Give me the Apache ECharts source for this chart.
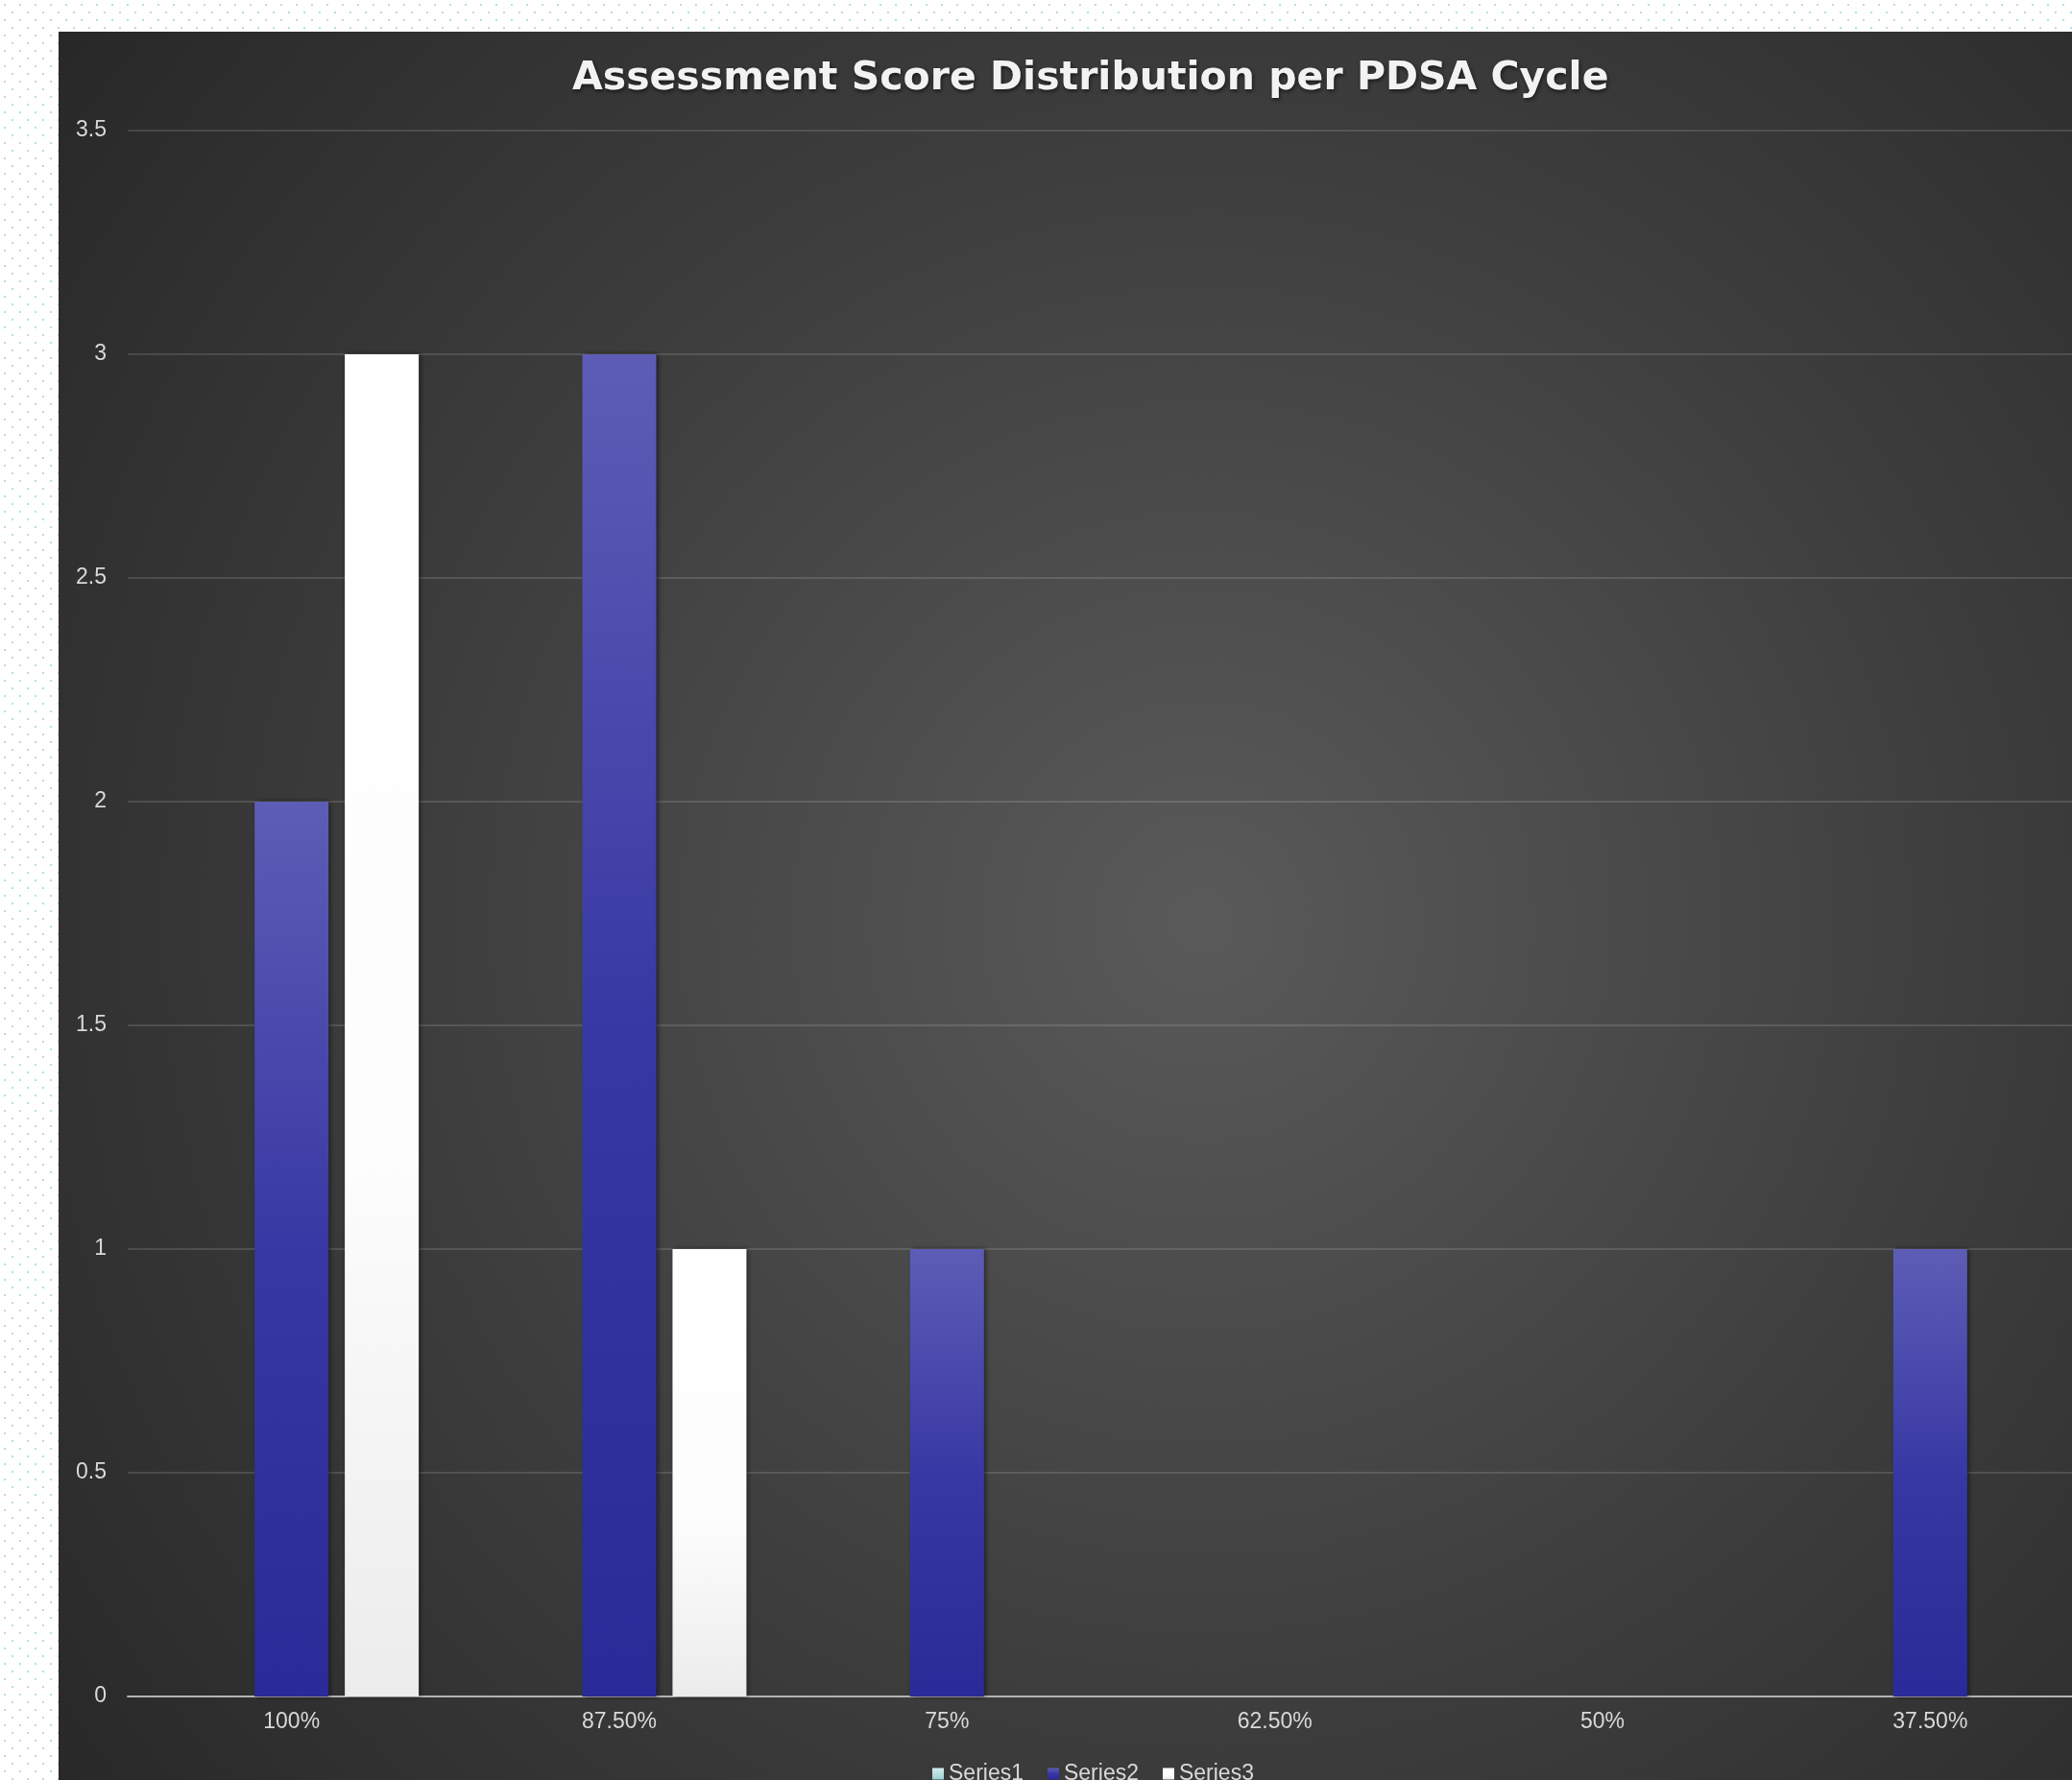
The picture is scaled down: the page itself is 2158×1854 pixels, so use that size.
<!DOCTYPE html>
<html>
<head>
<meta charset="utf-8">
<script src="https://cdn.jsdelivr.net/npm/echarts@6/dist/echarts.min.js"></script>
<style>
  html, body {
    margin: 0;
    padding: 0;
    width: 2158px;
    height: 1854px;
    overflow: hidden;
    background-color: #ffffff;
    background-image: url("data:image/svg+xml;utf8,<svg xmlns='http://www.w3.org/2000/svg' width='16' height='16'><rect x='4' y='4' width='2' height='2' fill='%23b5dfe0'/><rect x='12' y='12' width='2' height='2' fill='%23b5dfe0'/></svg>");
  }
  #chart {
    position: absolute;
    left: 61px;
    top: 33px;
    width: 2097px;
    height: 1821px;
  }
</style>
</head>
<body>
<div id="chart"></div>
<script>
// data
const categories = ['100%', '87.50%', '75%', '62.50%', '50%', '37.50%'];
const series1 = [0, 0, 0, 0, 0, 0];
const series2 = [2, 3, 1, 0, 0, 1];
const series3 = [3, 1, 0, 0, 0, 0];
const seriesNames = ['Series1', 'Series2', 'Series3'];

const labelFont = 'Liberation Sans, Arial, sans-serif';

let myChart = echarts.init(document.getElementById('chart'), null, { renderer: 'canvas' });

// bar look: vertical gradients like the excel "bevel" style
const barShadow = {
  shadowColor: 'rgba(0,0,0,0.55)',
  shadowBlur: 5,
  shadowOffsetX: 2,
  shadowOffsetY: 0
};

let option = {
  animation: false,
  backgroundColor: {
    type: 'radial',
    x: 1190, y: 927, r: 1500,
    global: true,
    colorStops: [
      { offset: 0, color: '#5a5a5a' },
      { offset: 0.55, color: '#3d3d3d' },
      { offset: 1, color: '#282828' }
    ]
  },
  title: {
    text: 'Assessment Score Distribution per PDSA Cycle',
    left: 530,
    top: 24,
    textStyle: {
      color: '#f2f2f2',
      fontFamily: 'DejaVu Sans',
      fontWeight: 'bold',
      fontSize: 41,
      textShadowColor: 'rgba(0,0,0,0.6)',
      textShadowBlur: 4,
      textShadowOffsetX: 1,
      textShadowOffsetY: 2
    }
  },
  legend: {
    data: seriesNames,
    left: 905,
    top: 1798,
    icon: 'rect',
    itemWidth: 12,
    itemHeight: 12,
    itemGap: 25,
    textStyle: { color: '#d9d9d9', fontSize: 23, fontFamily: labelFont }
  },
  grid: {
    left: 72,
    top: 103,
    width: 2048,
    bottom: 87,
    containLabel: false,
    outerBoundsMode: 'none'
  },
  xAxis: {
    type: 'category',
    data: categories,
    axisTick: { show: false },
    axisLine: { lineStyle: { color: '#b3b3b3', width: 2 } },
    axisLabel: { color: '#d9d9d9', fontSize: 23, fontFamily: labelFont, margin: 15 }
  },
  yAxis: {
    type: 'value',
    min: 0,
    max: 3.5,
    interval: 0.5,
    axisLine: { show: false },
    axisTick: { show: false },
    axisLabel: { color: '#d9d9d9', fontSize: 23, fontFamily: labelFont, margin: 22 },
    splitLine: { lineStyle: { color: 'rgba(255,255,255,0.13)', width: 2 } }
  },
  series: [
    {
      name: 'Series1',
      type: 'bar',
      data: series1,
      barWidth: 77,
      barGap: '22%',
      itemStyle: Object.assign({
        color: {
          type: 'linear', x: 0, y: 0, x2: 0, y2: 1,
          colorStops: [
            { offset: 0, color: '#d4eeee' },
            { offset: 1, color: '#9ccfcf' }
          ]
        }
      }, barShadow)
    },
    {
      name: 'Series2',
      type: 'bar',
      data: series2,
      barWidth: 77,
      barGap: '22%',
      itemStyle: Object.assign({
        color: {
          type: 'linear', x: 0, y: 0, x2: 0, y2: 1,
          colorStops: [
            { offset: 0, color: '#5d5db6' },
            { offset: 0.5, color: '#3838a4' },
            { offset: 1, color: '#2a2a98' }
          ]
        }
      }, barShadow)
    },
    {
      name: 'Series3',
      type: 'bar',
      data: series3,
      barWidth: 77,
      barGap: '22%',
      itemStyle: Object.assign({
        color: {
          type: 'linear', x: 0, y: 0, x2: 0, y2: 1,
          colorStops: [
            { offset: 0, color: '#ffffff' },
            { offset: 0.6, color: '#fdfdfd' },
            { offset: 1, color: '#ececec' }
          ]
        }
      }, barShadow)
    }
  ]
};

myChart.setOption(option);
</script>
</body>
</html>
